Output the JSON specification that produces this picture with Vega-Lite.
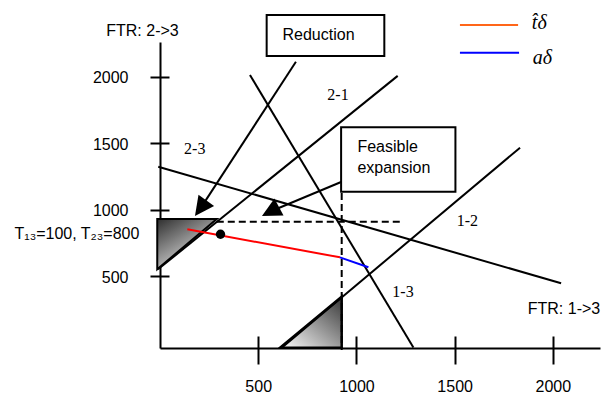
{
  "$schema": "https://vega.github.io/schema/vega-lite/v6.json",
  "width": 440,
  "height": 306,
  "autosize": {"type": "none"},
  "padding": {"left": 160, "top": 42, "right": 6, "bottom": 48},
  "background": "white",
  "config": {"view": {"stroke": null}, "axis": {"grid": false, "labelColor": "#000", "domainColor": "#000", "tickColor": "#000", "titleColor": "#000"}},
  "datasets": {
    "lines": [
      {"id": "2-3", "x": -9, "y": 1324}, {"id": "2-3", "x": 2042, "y": 447},
      {"id": "2-1", "x": -10, "y": 552}, {"id": "2-1", "x": 1210, "y": 2007},
      {"id": "1-2", "x": 620, "y": -38}, {"id": "1-2", "x": 1833, "y": 1467},
      {"id": "1-3", "x": 458, "y": 2014}, {"id": "1-3", "x": 1290, "y": -36},
      {"id": "arrow1", "x": 692, "y": 2114}, {"id": "arrow1", "x": 207, "y": 1012},
      {"id": "arrow2", "x": 925, "y": 1211}, {"id": "arrow2", "x": 562, "y": 987}
    ],
    "dashed": [
      {"id": "h", "x": 289, "y": 910}, {"id": "h", "x": 1237, "y": 910},
      {"id": "v", "x": 925, "y": 1126}, {"id": "v", "x": 925, "y": -55}
    ],
    "colored": [
      {"s": "t", "x": 139, "y": 853}, {"s": "t", "x": 916, "y": 642},
      {"s": "a", "x": 916, "y": 642}, {"s": "a", "x": 1061, "y": 567},
      {"s": "legend_t", "x": 1527, "y": 2390}, {"s": "legend_t", "x": 1823, "y": 2390},
      {"s": "legend_a", "x": 1527, "y": 2182}, {"s": "legend_a", "x": 1828, "y": 2182}
    ],
    "boxes": [
      {"name": "Reduction", "x": 543, "x2": 1142, "y": 2466, "y2": 2157},
      {"name": "Feasible expansion", "x": 922, "x2": 1504, "y": 1621, "y2": 1136}
    ]
  },
  "encoding": {
    "x": {"field": "x", "type": "quantitative", "scale": {"domain": [0, 2240], "nice": false, "zero": false}, "axis": null},
    "y": {"field": "y", "type": "quantitative", "scale": {"domain": [-40, 2262], "nice": false, "zero": false}, "axis": null}
  },
  "resolve": {"axis": {"x": "independent", "y": "independent"}},
  "layer": [
    {
      "data": {"values": [{"x": -14, "y": 552, "y2": 931}, {"x": 289, "y": 931, "y2": 931}]},
      "mark": {"type": "area", "opacity": 1, "stroke": "black", "strokeWidth": 2,
        "fill": {"gradient": "linear", "x1": 0, "y1": 0, "x2": 0.7, "y2": 1, "stops": [{"offset": 0, "color": "#2e2e2e"}, {"offset": 1, "color": "#f2f2f2"}]}},
      "encoding": {"y2": {"field": "y2"}}
    },
    {
      "data": {"values": [{"x": 611, "y": -38, "y2": -38}, {"x": 925, "y": -38, "y2": 346}]},
      "mark": {"type": "area", "opacity": 1, "stroke": "black", "strokeWidth": 2.5,
        "fill": {"gradient": "linear", "x1": 0, "y1": 1, "x2": 1, "y2": 0, "stops": [{"offset": 0, "color": "#ffffff"}, {"offset": 1, "color": "#383838"}]}},
      "encoding": {"y2": {"field": "y2"}}
    },
    {
      "data": {"name": "dashed"},
      "mark": {"type": "line", "color": "black", "strokeWidth": 2, "strokeDash": [7, 4]},
      "encoding": {"detail": {"field": "id"}}
    },
    {
      "data": {"name": "lines"},
      "mark": {"type": "line", "color": "black", "strokeWidth": 2},
      "encoding": {
        "x": {"field": "x", "type": "quantitative", "scale": {"domain": [0, 2240], "nice": false, "zero": false},
          "axis": {"orient": "bottom", "values": [500, 1000, 1500, 2000], "format": "d", "ticks": false, "domain": true, "domainWidth": 2,
            "labelPadding": 43.5, "labelBaseline": "alphabetic", "labelFlush": false, "labelFont": "Liberation Sans", "labelFontSize": 16,
            "title": "FTR: 1->3", "titleX": 403.5, "titleY": -40, "titleAlign": "center", "titleBaseline": "middle", "titleAngle": 0,
            "titleFont": "Liberation Sans", "titleFontSize": 16, "titleFontWeight": "normal"}},
        "y": {"field": "y", "type": "quantitative", "scale": {"domain": [-40, 2262], "nice": false, "zero": false},
          "axis": {"orient": "left", "values": [500, 1000, 1500, 2000], "format": "d", "ticks": false, "domain": true, "domainWidth": 2,
            "labelPadding": 32, "labelOffset": 1, "labelFlush": false, "labelFont": "Liberation Sans", "labelFontSize": 16,
            "title": "FTR: 2->3", "titleX": -18, "titleY": -12, "titleAlign": "center", "titleBaseline": "middle", "titleAngle": 0,
            "titleFont": "Liberation Sans", "titleFontSize": 16, "titleFontWeight": "normal"}},
        "detail": {"field": "id"}
      }
    },
    {
      "data": {"name": "colored"},
      "mark": {"type": "line", "strokeWidth": 2},
      "encoding": {
        "color": {"field": "s", "type": "nominal", "scale": {"domain": ["t", "a", "legend_t", "legend_a"], "range": ["#ff0000", "#0000ff", "#ff6619", "#0000ff"]}, "legend": null},
        "detail": {"field": "s"}
      }
    },
    {
      "data": {"values": [{"x": 178, "y": 953}]},
      "mark": {"type": "point", "shape": "M0,0L1,2L-1,2Z", "filled": true, "color": "black", "opacity": 1, "size": 372, "angle": 216}
    },
    {
      "data": {"values": [{"x": 519, "y": 953}]},
      "mark": {"type": "point", "shape": "M0,0L1,2L-1,2Z", "filled": true, "color": "black", "opacity": 1, "size": 372, "angle": 242}
    },
    {
      "data": {"values": [{"x": 308, "y": 816}]},
      "mark": {"type": "circle", "size": 87, "color": "black", "opacity": 1},
      "encoding": {
        "x": {"field": "x", "type": "quantitative", "scale": {"domain": [0, 2240], "nice": false, "zero": false},
          "axis": {"orient": "bottom", "values": [500, 1000, 1500, 2000], "domain": false, "labels": false, "ticks": true, "tickSize": 28, "tickWidth": 2, "offset": -12, "title": null}},
        "y": {"field": "y", "type": "quantitative", "scale": {"domain": [-40, 2262], "nice": false, "zero": false},
          "axis": {"orient": "left", "values": [500, 1000, 1500, 2000], "domain": false, "labels": false, "ticks": true, "tickSize": 19, "tickWidth": 2, "offset": -9, "title": null}}
      }
    },
    {
      "data": {"name": "boxes"},
      "mark": {"type": "rect", "fill": "white", "stroke": "black", "strokeWidth": 2},
      "encoding": {"x2": {"field": "x2"}, "y2": {"field": "y2"}}
    },
    {
      "data": {"values": [{"t": "Reduction", "x": 807, "y": 2315}]},
      "mark": {"type": "text", "font": "Liberation Sans", "fontSize": 16, "align": "center", "baseline": "middle", "color": "black"},
      "encoding": {"text": {"field": "t"}}
    },
    {
      "data": {"values": [{"t": "Feasible", "x": 1005, "y": 1475}, {"t": "expansion", "x": 1005, "y": 1317}]},
      "mark": {"type": "text", "font": "Liberation Sans", "fontSize": 16, "align": "left", "baseline": "middle", "color": "black"},
      "encoding": {"text": {"field": "t"}}
    },
    {
      "data": {"values": [{"t": "T\u2081\u2083=100, T\u2082\u2083=800", "x": -105, "y": 816}]},
      "mark": {"type": "text", "font": "Liberation Sans", "fontSize": 16, "align": "right", "baseline": "middle", "color": "black"},
      "encoding": {"text": {"field": "t"}}
    },
    {
      "data": {"values": [{"t": "2-3", "x": 177, "y": 1457}, {"t": "2-1", "x": 906, "y": 1860}, {"t": "1-2", "x": 1565, "y": 917}, {"t": "1-3", "x": 1237, "y": 384}]},
      "mark": {"type": "text", "font": "Liberation Serif", "fontSize": 16, "align": "center", "baseline": "middle", "color": "black"},
      "encoding": {"text": {"field": "t"}}
    },
    {
      "data": {"values": [{"t": "t\u0302\u03b4", "x": 1893, "y": 2360}, {"t": "a\u03b4", "x": 1898, "y": 2097}]},
      "mark": {"type": "text", "font": "Liberation Serif", "fontStyle": "italic", "fontSize": 20, "align": "left", "baseline": "alphabetic", "color": "black"},
      "encoding": {"text": {"field": "t"}}
    }
  ]
}
